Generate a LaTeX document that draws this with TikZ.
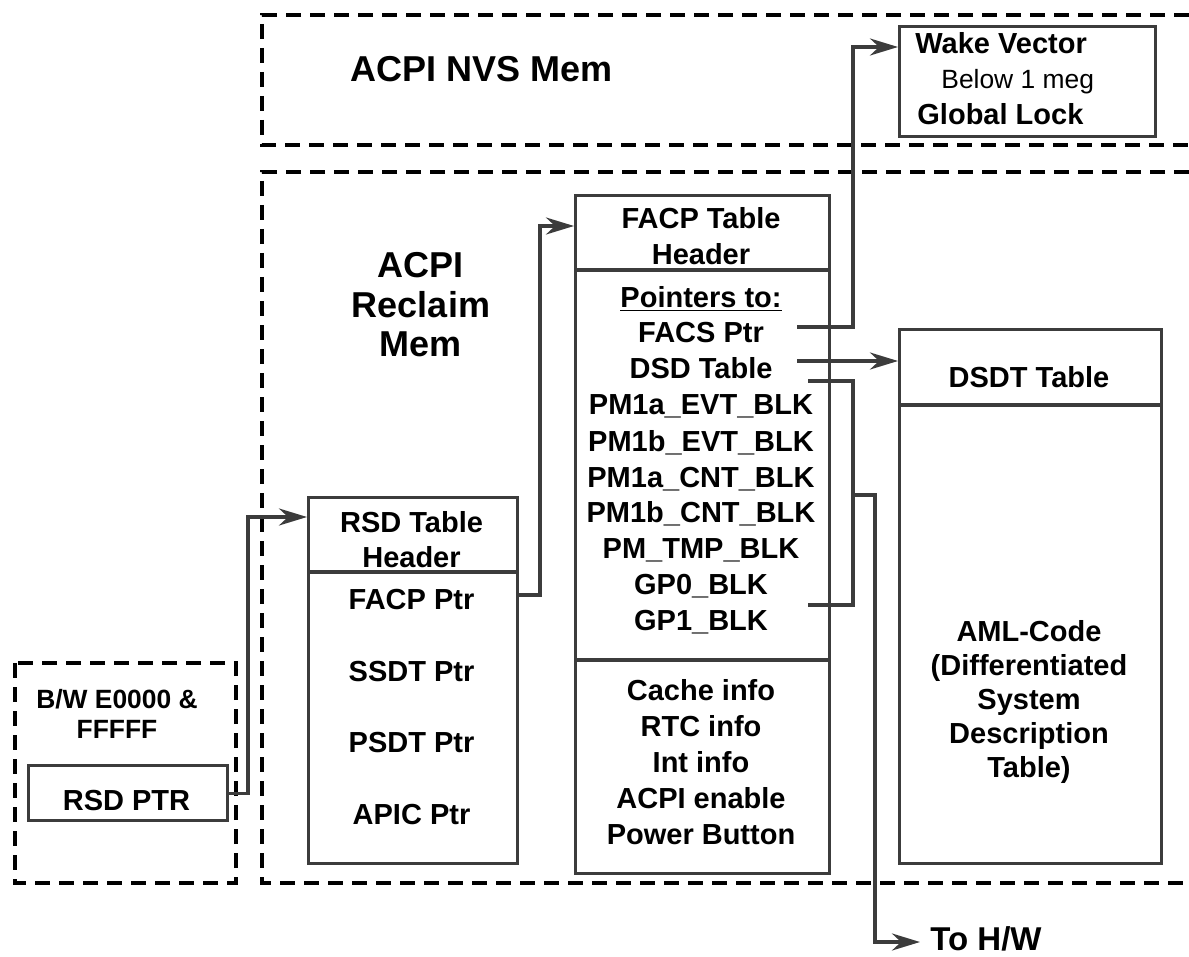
\documentclass[tikz,border=0pt]{standalone}
\usepackage{fontspec}
\setmainfont{Liberation Sans}
\usetikzlibrary{arrows.meta,positioning}
\definecolor{linegray}{HTML}{3C3C3C}
\tikzset{font=\bfseries\fontsize{14.5}{18}\selectfont}
\tikzset{
  region/.style={draw=black,line width=2.2pt,dash pattern=on 7.5pt off 4.5pt},
  tbl/.style={draw=linegray,line width=1.6pt,inner sep=0pt,anchor=north west},
  wire/.style={draw=linegray,line width=1.6pt},
  link/.style={wire,-{Stealth[length=14pt,width=8.5pt,inset=4.5pt]}},
  row/.style={anchor=base,inner sep=0pt},
  head/.style={font=\bfseries\fontsize{18}{20}\selectfont,inner sep=0pt,anchor=base}
}

\begin{document}
\begin{tikzpicture}[x=0.5pt,y=-0.5pt]
  \useasboundingbox (0,0) rectangle (1189,957);
  % memory regions
  \draw[region] (1189,15) -- (262,15) -- (262,145) -- (1189,145);
  \draw[region] (1189,172) -- (262,172) -- (262,883) -- (1189,883);
  \draw[region] (15,663) rectangle (236,883);
  \node[head,anchor=base west] (nvs) at (350,82) {ACPI NVS Mem};
  \foreach \txt/\yy [count=\i] in {ACPI/278, Reclaim/318, Mem/357}
    \node[head] (reclaim\i) at (421,\yy) {\txt};
  \node[row,font=\bfseries\fontsize{13.2}{15}\selectfont] (bwa) at (117,708) {B/W E0000 \&};
  \node[row,font=\bfseries\fontsize{13.2}{15}\selectfont] (bwb) at (117,738) {FFFFF};

  % tables
  \node[tbl,minimum width=99.5pt,minimum height=27.5pt] (rsdptr) at (27,764) {};
  \node[row] (rsdptrtxt) at (126.5,810) {RSD PTR};
  \node[tbl,minimum width=104.5pt,minimum height=183pt] (rsd) at (307,496) {};
  \node[tbl,minimum width=127pt,minimum height=339pt] (facp) at (574,194) {};
  \node[tbl,minimum width=131pt,minimum height=267pt] (dsdt) at (898,328) {};
  \node[tbl,minimum width=128pt,minimum height=55pt] (wake) at (898,25) {};
  \draw[wire] (rsd.west |- 0,572) -- (rsd.east |- 0,572);
  \draw[wire] (facp.west |- 0,270) -- (facp.east |- 0,270);
  \draw[wire] (facp.west |- 0,660) -- (facp.east |- 0,660);
  \draw[wire] (dsdt.west |- 0,405) -- (dsdt.east |- 0,405);

  % RSD table
  \foreach \nm/\txt/\yy in {rsdhead/RSD Table/532, rsdhdr/Header/567, facpptr/FACP Ptr/609,
      ssdtptr/SSDT Ptr/681, psdtptr/PSDT Ptr/752, apicptr/APIC Ptr/824}
    \node[row] (\nm) at (411.5,\yy) {\txt};

  % FACP table
  \foreach \nm/\txt/\yy in {facphead/FACP Table/229, facphdr/Header/265,
      ptrs/\underline{Pointers to:}/307, facs/FACS Ptr/343, dsd/DSD Table/379,
      pmaevt/PM1a\_EVT\_BLK/415, pmbevt/PM1b\_EVT\_BLK/451, pmacnt/PM1a\_CNT\_BLK/487,
      pmbcnt/PM1b\_CNT\_BLK/522, pmtmp/PM\_TMP\_BLK/558, gpzero/GP0\_BLK/594, gpone/GP1\_BLK/630,
      cache/Cache info/700, rtc/RTC info/736, int/Int info/772, enable/ACPI enable/808,
      power/Power Button/844}
    \node[row] (\nm) at (701,\yy) {\txt};

  % DSDT table
  \node[row] (dsdthead) at (1029,387) {DSDT Table};
  \foreach \nm/\txt/\yy in {aml/AML-Code/641, diff/(Differentiated/675, sys/System/709,
      desc/Description/743, tblend/Table)/777}
    \node[row] (\nm) at (1029,\yy) {\txt};

  % NVS contents
  \node[row,anchor=base west] (wakevec) at (915,54) {Wake Vector};
  \node[row,anchor=base west,font=\mdseries\fontsize{13.2}{15}\selectfont] (below) at (941,89) {Below 1 meg};
  \node[row,anchor=base west] (glock) at (917,125) {Global Lock};
  \node[row,anchor=base west,font=\bfseries\fontsize{16.5}{19}\selectfont] (tohw) at (930,950) {To H/W};

  % pointer connectors
  \coordinate (facsout) at (797,327);
  \coordinate (dsdout) at (797,361);
  \coordinate (blktop) at (808,381);
  \coordinate (blkbot) at (808,605);
  \coordinate (hw) at (920,942);
  \draw[link] (rsdptr.east) -| (248,517) -- (rsd.west |- 0,517);
  \draw[link] (rsd.east |- 0,595) -| (540,226) -- (facp.west |- 0,226);
  \draw[link] (facsout) -| (853,47) -- (wake.west |- 0,47);
  \draw[link] (dsdout) -- (dsdt.west |- dsdout);
  \draw[wire] (blktop) -| (853,605) -- (blkbot);
  \draw[link] (853,495) -| (875,942) -- (hw);
\end{tikzpicture}
\end{document}
